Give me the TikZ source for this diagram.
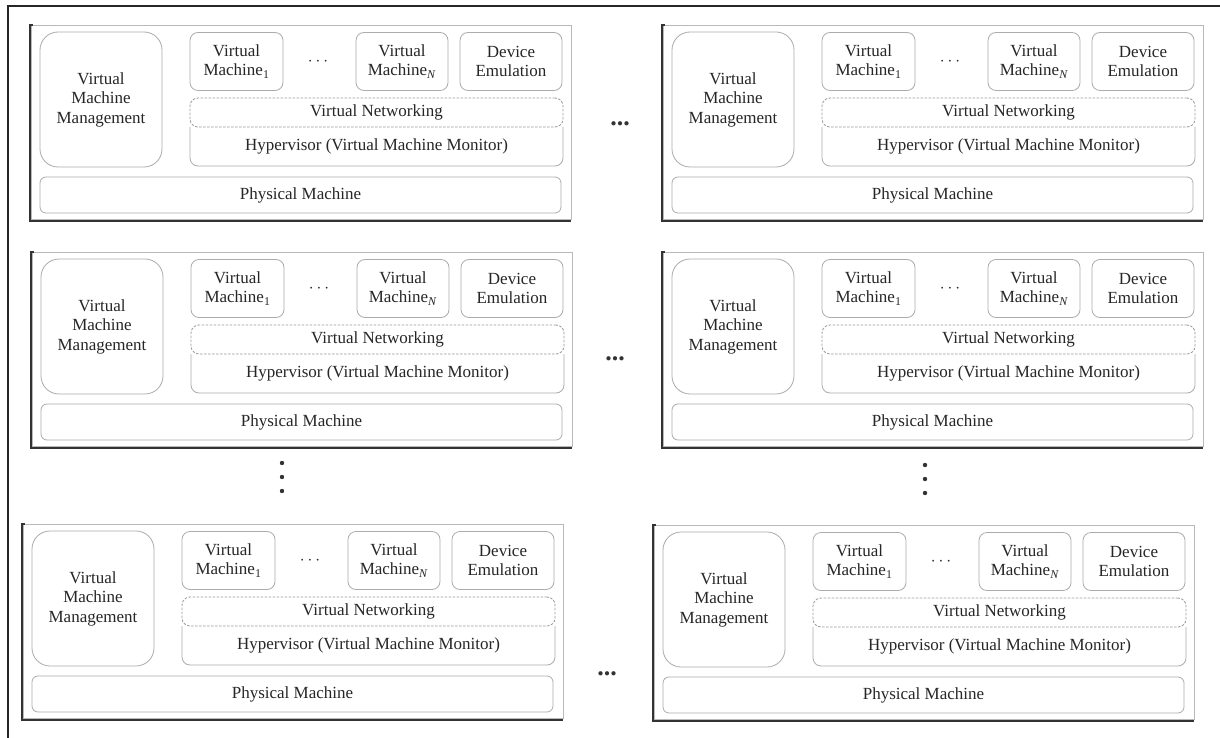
\documentclass[tikz,border=0pt]{standalone}
\usepackage{fontspec}
\setmainfont{Liberation Serif}
\newcommand\lbl{\fontsize{17}{19.5}\selectfont}
\newcommand\dotfont{\fontsize{26}{26}\selectfont\bfseries}
\tikzset{
  box/.style={draw=gray!65, line width=0.8pt, rounded corners=8pt, align=center,
    inner sep=0pt, font=\lbl, text=black!85},
  netbox/.style={box, dashed, dash pattern=on 2.5pt off 1.5pt, draw=gray!80},
  plain/.style={font=\lbl, text=black!85, inner sep=0pt},
  outerframe/.style={draw=black!85, line width=1.6pt},
  blockframe/.style={draw=gray!55, line width=0.8pt},
  blockshade/.style={draw=black!80, line width=1.3pt},
  hdots/.style={font=\dotfont, text=black!80, inner sep=0pt},
  dotmark/.style={circle, fill=black!80, inner sep=0pt, minimum size=4.4pt},
}
\newcommand\vblock[3]{%
\begin{scope}[shift={(#2,#3)}]
  \draw[blockframe] (1.5,0) rectangle (541,194.5);
  \draw[blockshade] (3,0) -- (0,0) -- (0,196) -- (541,196);
  \node[box, rounded corners=18pt, minimum width=122pt, minimum height=135pt] (#1-vmm) at (71,74.5) {Virtual\\Machine\\Management};
  \node[box, minimum width=93pt, minimum height=58pt] (#1-vm1) at (206.5,36.5) {Virtual\\Machine\textsubscript{1}};
  \node[plain] (#1-cd) at (288,37) {$\cdots$};
  \node[box, minimum width=92pt, minimum height=58pt] (#1-vmn) at (372,36.5) {Virtual\\Machine\textsubscript{\textit{N}}};
  \node[box, minimum width=102pt, minimum height=58pt] (#1-dev) at (481,36.5) {Device\\Emulation};
  \draw[gray!65, line width=0.8pt, rounded corners=8pt] (160,102) -- (160,141) -- (533,141) -- (533,102);
  \node[netbox, minimum width=373pt, minimum height=29pt] (#1-vn) at (346.5,87.5) {Virtual Networking};
  \node[plain] (#1-hyp) at (346.5,121.5) {Hypervisor (Virtual Machine Monitor)};
  \node[box, rounded corners=6pt, minimum width=521pt, minimum height=36pt] (#1-pm) at (270.5,170) {Physical Machine};
\end{scope}}
\begin{document}
\begin{tikzpicture}[x=1pt, y=-1pt]
  \useasboundingbox[fill=white] (0,0) rectangle (1220,738);
  \draw[outerframe] (8,740) -- (8,6) -- (1222,6);
  \vblock{tl}{30}{25}
  \vblock{tr}{662}{25}
  \vblock{ml}{31}{252}
  \vblock{mr}{662}{252}
  \vblock{bl}{22}{524}
  \vblock{br}{653}{525}
  \node[hdots] (h1) at (620,124) {...};
  \node[hdots] (h2) at (615,359) {...};
  \node[hdots] (h3) at (607,674) {...};
  \foreach \i/\yy in {1/463, 2/477, 3/491} {
    \node[dotmark] (vl\i) at (282,\yy) {};
    \node[dotmark] (vr\i) at (925,\yy+2) {};
  }
\end{tikzpicture}
\end{document}
